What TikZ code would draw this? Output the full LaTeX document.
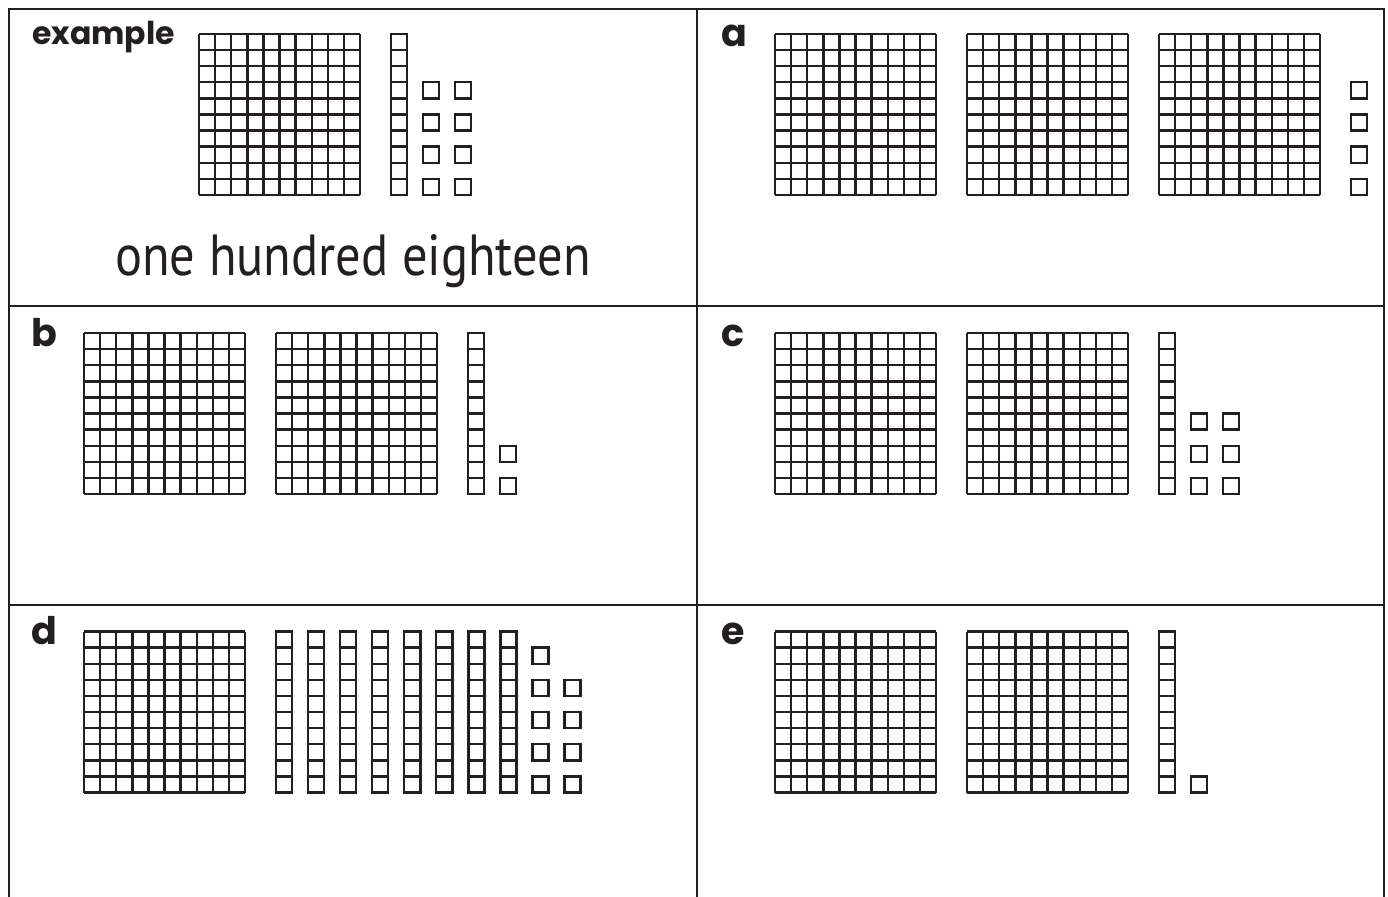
\documentclass[tikz,border=0pt]{standalone}
\usepackage{fontspec}
\newfontfamily\labfont{Poppins}
\newfontfamily\handfont{PT Sans}
\definecolor{ink}{HTML}{231F20}
\newcommand\cellu{16.1}
\newcommand\drawflat[2]{%
  \foreach \i in {0,...,10}{%
    \draw[blockline] (#1+\i*\cellu,#2) -- ++(0,161);
    \draw[blockline] (#1,#2+\i*\cellu) -- ++(161,0);
  }}
\newcommand\drawrod[2]{%
  \draw[blockline] (#1,#2) rectangle ++(\cellu,161);
  \foreach \i in {1,...,9}{%
    \draw[blockline] (#1,#2+\i*\cellu) -- ++(\cellu,0);
  }}
\newcommand\drawunit[3]{%
  \draw[blockline] (#1,#2+#3*\cellu) rectangle ++(\cellu,\cellu);}
\begin{document}
\begin{tikzpicture}[x=1pt,y=-1pt,
  blockline/.style={draw=ink,line width=2.4pt},
  frameline/.style={draw=ink,line width=2.5pt},
  lab/.style={font=\labfont\bfseries\fontsize{38}{40}\selectfont,text=ink,anchor=base west,inner sep=0pt},
  exlab/.style={font=\labfont\bfseries\fontsize{31.5}{34}\selectfont,text=ink,anchor=base west,inner sep=0pt},
  hand/.style={font=\handfont\fontsize{58}{60}\selectfont,text=ink,anchor=base,inner sep=0pt}]
\useasboundingbox (0,0) rectangle (1388,896);
% frame
\draw[frameline] (9,900) -- (9,9) -- (1384,9) -- (1384,900);
\draw[frameline] (697,9) -- (697,900);
\draw[frameline] (9,306) -- (1384,306);
\draw[frameline] (9,605) -- (1384,605);
% labels
\node[exlab] (lex) at (32,45) {example};
\node[lab] (la) at (721,47) {a};
\node[lab] (lb) at (31,346) {b};
\node[lab] (lc) at (721,346) {c};
\node[lab] (ld) at (31,644) {d};
\node[lab] (le) at (721,644) {e};
\node[hand] (word) at (353,275) {\scalebox{0.87}[1]{one hundred eighteen}};
% example
\drawflat{199}{34}
\drawrod{391}{34}
\foreach \r in {3,5,7,9}{\drawunit{423}{34}{\r}\drawunit{455}{34}{\r}}
% a
\drawflat{775}{34}\drawflat{967}{34}\drawflat{1159}{34}
\foreach \r in {3,5,7,9}{\drawunit{1351}{34}{\r}}
% b
\drawflat{84}{333}\drawflat{276}{333}
\drawrod{468}{333}
\foreach \r in {7,9}{\drawunit{500}{333}{\r}}
% c
\drawflat{775}{333}\drawflat{967}{333}
\drawrod{1159}{333}
\foreach \r in {5,7,9}{\drawunit{1191}{333}{\r}\drawunit{1223}{333}{\r}}
% d
\drawflat{84}{631.5}
\foreach \k in {0,...,7}{\drawrod{276+32.05*\k}{631.5}}
\foreach \r in {1,3,5,7,9}{\drawunit{532.5}{631.5}{\r}}
\foreach \r in {3,5,7,9}{\drawunit{564.5}{631.5}{\r}}
% e
\drawflat{775}{631.5}\drawflat{967}{631.5}
\drawrod{1159}{631.5}
\drawunit{1191}{631.5}{9}
\end{tikzpicture}
\end{document}
